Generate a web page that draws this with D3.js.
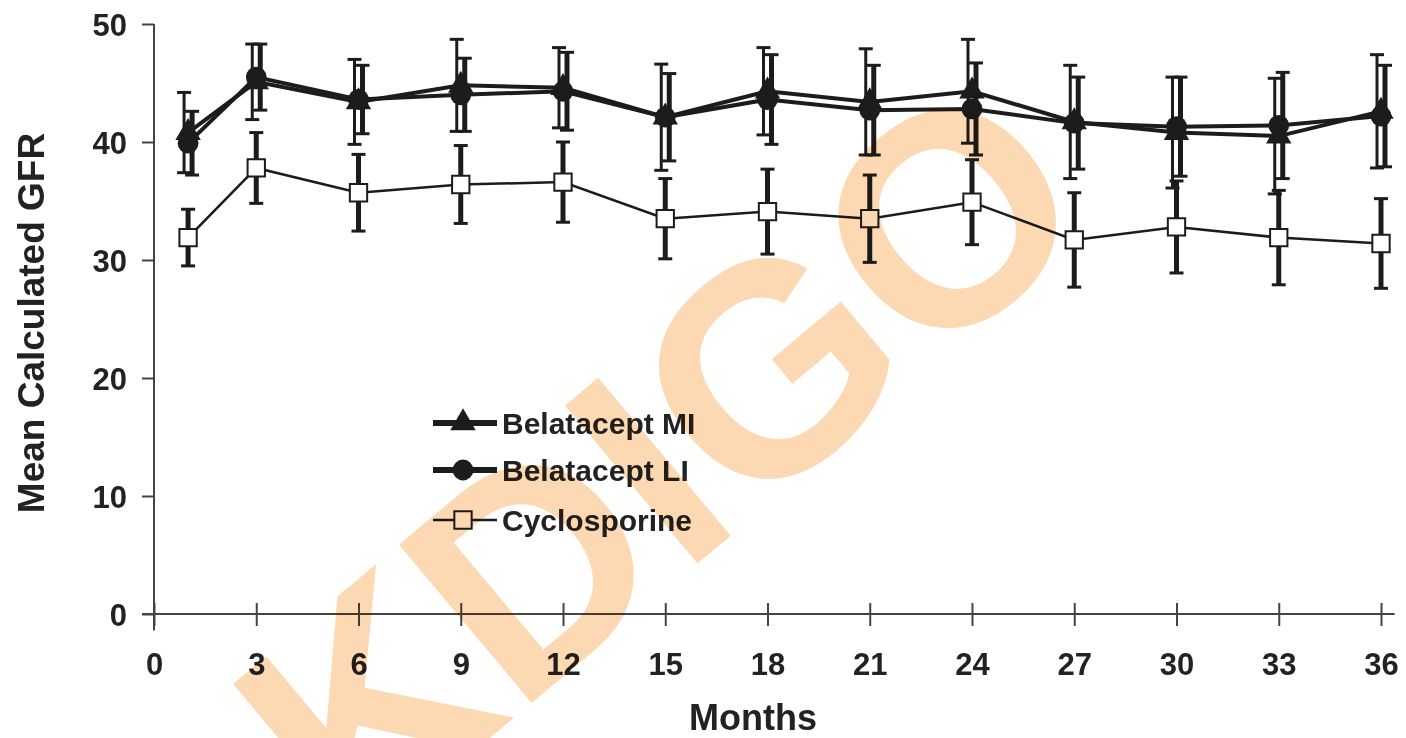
<!DOCTYPE html>
<html>
<head>
<meta charset="utf-8">
<script src="https://cdn.jsdelivr.net/npm/d3@7"></script>
<style>
  body { margin: 0; background: #fff; }
  svg { display: block; font-family: "Liberation Sans", Arial, sans-serif; }
  .axis text { font-weight: bold; font-size: 31px; fill: #222; }
  .axis line { stroke: #444; stroke-width: 2; }
</style>
</head>
<body>
<div id="chart"></div>
<script>
// months where GFR was measured
const months = [1, 3, 6, 9, 12, 15, 18, 21, 24, 27, 30, 33, 36];

// Belatacept MI (triangles)
const miMean = [40.8, 45.1, 43.4, 44.8, 44.6, 42.1, 44.3, 43.4, 44.3, 41.7, 40.8, 40.5, 42.6];
const miErr  = [3.4, 3.2, 3.6, 3.9, 3.4, 4.5, 3.7, 4.5, 4.4, 4.8, 4.7, 4.9, 4.8];

// Belatacept LI (circles)
const liMean = [39.9, 45.5, 43.6, 44.0, 44.3, 42.1, 43.6, 42.7, 42.8, 41.6, 41.3, 41.4, 42.2];
const liErr  = [2.7, 2.8, 2.9, 3.1, 3.3, 3.7, 3.8, 3.8, 3.9, 3.9, 4.2, 4.5, 4.3];

// Cyclosporine (open squares)
const cyMean = [31.9, 37.8, 35.7, 36.4, 36.6, 33.5, 34.1, 33.5, 34.9, 31.7, 32.8, 31.9, 31.4];
const cyErr  = [2.4, 3.0, 3.25, 3.3, 3.4, 3.4, 3.6, 3.7, 3.6, 4.0, 3.9, 4.0, 3.8];

const xTicks = [0, 3, 6, 9, 12, 15, 18, 21, 24, 27, 30, 33, 36];
const yTicks = [0, 10, 20, 30, 40, 50];
const legendLabels = ['Belatacept MI', 'Belatacept LI', 'Cyclosporine'];

const width = 1406, height = 738;
const ink = '#1c1c1e';

const svg = d3.select('#chart').append('svg')
  .attr('width', width)
  .attr('height', height);

const x = d3.scaleLinear().domain([0, 36]).range([154, 1381]);
const y = d3.scaleLinear().domain([0, 50]).range([614, 24]);

// axes
const xAxis = d3.axisBottom(x).tickValues(xTicks).tickSizeOuter(0);
const yAxis = d3.axisLeft(y).tickValues(yTicks).tickSize(12).tickSizeOuter(0);

const gx = svg.append('g')
  .attr('class', 'axis')
  .attr('transform', 'translate(0,' + y(0) + ')')
  .call(xAxis);
gx.select('.domain').remove();
gx.selectAll('.tick line').attr('y1', -11).attr('y2', 12);
gx.selectAll('.tick text').attr('y', 61).attr('dy', 0);
gx.append('line')
  .attr('x1', x(-0.35)).attr('x2', x(36.4))
  .attr('y1', 0).attr('y2', 0);

const gy = svg.append('g')
  .attr('class', 'axis')
  .attr('transform', 'translate(' + x(0) + ',0)')
  .call(yAxis);
gy.select('.domain').remove();
gy.selectAll('.tick text').attr('x', -27).attr('dy', '0.36em');
gy.append('line')
  .attr('x1', 0).attr('x2', 0)
  .attr('y1', y(50)).attr('y2', y(-1.4));

// axis titles
svg.append('text')
  .attr('x', 753).attr('y', 730)
  .attr('text-anchor', 'middle')
  .style('font-weight', 'bold').style('font-size', '36px')
  .attr('fill', '#222')
  .text('Months');

svg.append('text')
  .attr('transform', 'translate(44,323) rotate(-90)')
  .attr('text-anchor', 'middle')
  .style('font-weight', 'bold').style('font-size', '37px')
  .attr('fill', '#222')
  .text('Mean Calculated GFR');

function rows(mean, err) {
  return months.map((m, i) => ({ m: m, v: mean[i], e: err[i] }));
}
const mi = rows(miMean, miErr);
const li = rows(liMean, liErr);
const cy = rows(cyMean, cyErr);

const line = d3.line().x(d => x(d.m)).y(d => y(d.v));

function errorBars(data, dx, w, capW) {
  const g = svg.append('g').attr('stroke', ink);
  g.selectAll('.bar').data(data).enter().append('line')
    .attr('x1', d => x(d.m) + dx).attr('x2', d => x(d.m) + dx)
    .attr('y1', d => y(d.v + d.e)).attr('y2', d => y(d.v - d.e))
    .attr('stroke-width', w);
  ['top', 'bottom'].forEach(side => {
    g.selectAll('.cap-' + side).data(data).enter().append('line')
      .attr('x1', d => x(d.m) + dx - capW / 2).attr('x2', d => x(d.m) + dx + capW / 2)
      .attr('y1', d => y(side == 'top' ? d.v + d.e : d.v - d.e))
      .attr('y2', d => y(side == 'top' ? d.v + d.e : d.v - d.e))
      .attr('stroke-width', 3);
  });
}

// cyclosporine
errorBars(cy, 0, 5, 14);
svg.append('path').datum(cy)
  .attr('d', line).attr('fill', 'none')
  .attr('stroke', ink).attr('stroke-width', 2.5);

// belatacept
errorBars(mi, -4, 3, 14);
errorBars(li, 4, 5, 14);
svg.append('path').datum(mi)
  .attr('d', line).attr('fill', 'none')
  .attr('stroke', ink).attr('stroke-width', 4);
svg.append('path').datum(li)
  .attr('d', line).attr('fill', 'none')
  .attr('stroke', ink).attr('stroke-width', 4);

const tri = d3.symbol().type(d3.symbolTriangle).size(280);
const circ = d3.symbol().type(d3.symbolCircle).size(340);
const sq = d3.symbol().type(d3.symbolSquare).size(300);

svg.append('g').selectAll('path').data(mi).enter().append('path')
  .attr('transform', d => 'translate(' + x(d.m) + ',' + y(d.v) + ')')
  .attr('d', tri).attr('fill', ink);
svg.append('g').selectAll('path').data(li).enter().append('path')
  .attr('transform', d => 'translate(' + x(d.m) + ',' + y(d.v) + ')')
  .attr('d', circ).attr('fill', ink);
svg.append('g').selectAll('path').data(cy).enter().append('path')
  .attr('transform', d => 'translate(' + x(d.m) + ',' + y(d.v) + ')')
  .attr('d', sq).attr('fill', '#fff').attr('stroke', ink).attr('stroke-width', 2);

// legend
const legend = svg.append('g').attr('transform', 'translate(433,423)');
const legendStyle = [
  { sym: tri, fill: ink, w: 6 },
  { sym: circ, fill: ink, w: 6 },
  { sym: sq, fill: '#fff', w: 2.5 }
];
const item = legend.selectAll('.item').data(legendLabels).enter().append('g')
  .attr('transform', (d, i) => 'translate(0,' + [0, 47, 97][i] + ')');
item.append('line')
  .attr('x1', 0).attr('x2', 64).attr('y1', 0).attr('y2', 0)
  .attr('stroke', ink).attr('stroke-width', (d, i) => legendStyle[i].w);
item.append('path')
  .attr('transform', 'translate(30,0)')
  .attr('d', (d, i) => legendStyle[i].sym())
  .attr('fill', (d, i) => legendStyle[i].fill)
  .attr('stroke', ink).attr('stroke-width', (d, i) => i == 2 ? 2 : 0);
item.append('text')
  .attr('x', 69).attr('dy', '0.36em')
  .style('font-weight', 'bold').style('font-size', '30px')
  .attr('fill', '#222')
  .text(d => d);

// watermark
svg.append('text')
  .attr('transform', 'translate(727,539) rotate(-40)')
  .attr('text-anchor', 'middle')
  .style('font-weight', 'bold').style('font-size', '300px')
  .style('mix-blend-mode', 'multiply')
  .attr('fill', '#fdd9b3')
  .text('KDIGO');
</script>
</body>
</html>
